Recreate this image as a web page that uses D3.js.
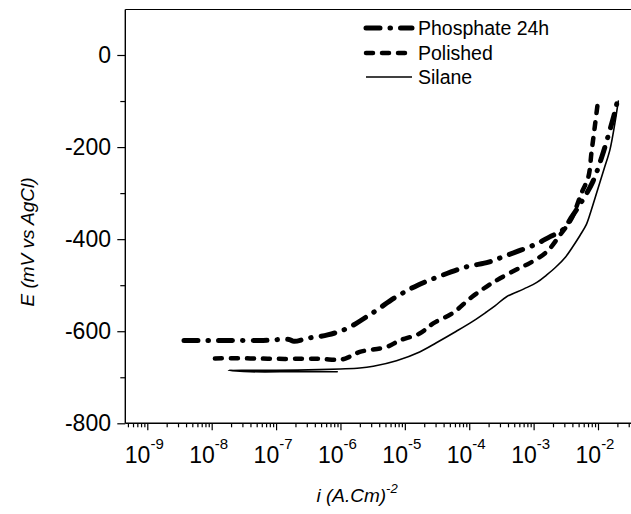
<!DOCTYPE html>
<html>
<head>
<meta charset="utf-8">
<script src="https://cdn.jsdelivr.net/npm/d3@7"></script>
<style>
  html, body { margin: 0; padding: 0; background: #fff; }
  svg { display: block; }
  text { font-family: Arial, "Liberation Sans", sans-serif; fill: #000; }
</style>
</head>
<body>
<svg id="chart" width="631" height="514"></svg>
<script>
// ---- Data (log10 of current density, potential in mV) ----
const xTickExponents = [-9, -8, -7, -6, -5, -4, -3, -2];
const yTickValues = [0, -200, -400, -600, -800];
const yMinorTickValues = [-100, -300, -500, -700];

const seriesNames = ["Phosphate 24h", "Polished", "Silane"];

const phosphateLogI = [-8.43, -7.8, -7.2, -6.8, -6.72, -6.5, -6.2, -5.9, -5.5, -5.13, -4.8, -4.45, -4.04, -3.7, -3.47, -3.2, -2.95, -2.75, -2.55, -2.4, -2.26, -2.08, -1.94, -1.82, -1.74, -1.70];
const phosphateE    = [-620, -620, -620, -618, -622, -615, -608, -594, -560, -525, -500, -480, -460, -450, -438, -424, -410, -395, -380, -350, -320, -275, -221, -165, -125, -100];

const polishedLogI = [-7.95, -7.4, -7.0, -6.6, -6.3, -6.0, -5.85, -5.7, -5.28, -5.08, -4.77, -4.56, -4.25, -3.99, -3.73, -3.52, -3.21, -3.06, -2.80, -2.59, -2.41, -2.26, -2.15, -2.10, -2.05, -2.0];
const polishedE    = [-659, -659, -660, -660, -660, -662, -655, -645, -634, -620, -605, -583, -560, -529, -503, -485, -462, -452, -428, -391, -355, -301, -265, -210, -156, -100];

const silaneLogI = [-6.05, -6.7, -7.4, -7.74, -7.3, -7.0, -6.5, -6.0, -5.7, -5.49, -5.13, -4.77, -4.51, -4.2, -3.94, -3.73, -3.6, -3.42, -3.15, -2.95, -2.8, -2.65, -2.5, -2.4, -2.28, -2.18, -2.1, -2.0, -1.90, -1.815, -1.74, -1.685];
const silaneE    = [-688, -688, -688, -685, -685, -685, -684, -682, -680, -676, -664, -645, -625, -600, -578, -558, -545, -525, -508, -494, -478, -460, -438, -418, -392, -368, -335, -290, -245, -206, -150, -100];

// ---- Layout ----
const svg = d3.select("#chart");
const plotLeft = 125.3, plotBottom = 423.3, plotTop = 9.5;

const x = d3.scaleLog().domain([1e-9, 1e-2]).range([147.3, 598]);
const y = d3.scaleLinear().domain([-800, 0]).range([423.3, 55]);

svg.append("rect").attr("width", 631).attr("height", 514).attr("fill", "#fff");

// frame lines
svg.append("line").attr("x1", plotLeft).attr("x2", 700).attr("y1", plotTop).attr("y2", plotTop)
  .attr("stroke", "#000").attr("stroke-width", 1);
svg.append("line").attr("x1", plotLeft).attr("x2", plotLeft).attr("y1", plotTop).attr("y2", plotBottom)
  .attr("stroke", "#000").attr("stroke-width", 1.4);
svg.append("line").attr("x1", plotLeft).attr("x2", 700).attr("y1", plotBottom).attr("y2", plotBottom)
  .attr("stroke", "#000").attr("stroke-width", 1.4);

// x major ticks
const xMajor = xTickExponents.map(e => Math.pow(10, e));
const xMinor = [];
for (let e = -10; e <= -1; e++) for (let m = 2; m <= 9; m++) {
  const v = m * Math.pow(10, e);
  if (x(v) > plotLeft + 1 && x(v) < 640) xMinor.push(v);
}
const xAxisMajor = d3.axisBottom(x).tickValues(xMajor).tickSize(7).tickFormat("");
const xAxisMinor = d3.axisBottom(x).tickValues(xMinor).tickSize(4).tickFormat("");
const gxM = svg.append("g").attr("transform", `translate(0,${plotBottom})`).call(xAxisMajor);
const gxm = svg.append("g").attr("transform", `translate(0,${plotBottom})`).call(xAxisMinor);
[gxM, gxm].forEach(g => { g.select(".domain").remove(); g.selectAll("line").attr("stroke", "#000").attr("stroke-width", 1.2); });

// x tick labels 10^n
xTickExponents.forEach(e => {
  const t = svg.append("text").attr("x", x(Math.pow(10, e)) - 3).attr("y", 463)
    .attr("text-anchor", "middle").attr("font-size", 23);
  t.append("tspan").text("10");
  t.append("tspan").attr("dy", -14).attr("font-size", 15).text("-" + Math.abs(e));
});

// y ticks
const yAxisMajor = d3.axisLeft(y).tickValues(yTickValues).tickSize(8).tickFormat("");
const yAxisMinor = d3.axisLeft(y).tickValues(yMinorTickValues).tickSize(5).tickFormat("");
const gyM = svg.append("g").attr("transform", `translate(${plotLeft},0)`).call(yAxisMajor);
const gym = svg.append("g").attr("transform", `translate(${plotLeft},0)`).call(yAxisMinor);
[gyM, gym].forEach(g => { g.select(".domain").remove(); g.selectAll("line").attr("stroke", "#000").attr("stroke-width", 1.2); });

yTickValues.forEach(v => {
  svg.append("text").attr("x", 111).attr("y", y(v) + 8)
    .attr("text-anchor", "end").attr("font-size", 23).text(v);
});

// axis titles
svg.append("text")
  .attr("transform", "translate(34,242) rotate(-90)")
  .attr("text-anchor", "middle").attr("font-size", 19).attr("font-style", "italic")
  .text("E (mV vs AgCl)");

const xt = svg.append("text").attr("x", 357).attr("y", 502)
  .attr("text-anchor", "middle").attr("font-size", 19).attr("font-style", "italic");
xt.append("tspan").text("i (A.Cm)");
xt.append("tspan").attr("dy", -9).attr("font-size", 13).text("-2");

// ---- Series ----
const styles = [
  { w: 5, dash: "14 10 0.5 10" },
  { w: 4.5, dash: "7 9" },
  { w: 1.6, dash: null }
];
const data = [
  phosphateLogI.map((l, i) => [l, phosphateE[i]]),
  polishedLogI.map((l, i) => [l, polishedE[i]]),
  silaneLogI.map((l, i) => [l, silaneE[i]])
];

const line = d3.line()
  .x(d => x(Math.pow(10, d[0])))
  .y(d => y(d[1]))
  .curve(d3.curveCatmullRom.alpha(0.5));

data.forEach((d, i) => {
  svg.append("path").attr("d", line(d))
    .attr("fill", "none").attr("stroke", "#000")
    .attr("stroke-width", styles[i].w)
    .attr("stroke-linecap", "round").attr("stroke-linejoin", "round")
    .attr("stroke-dasharray", styles[i].dash);
});

// ---- Legend ----
const legendY = [28, 53, 77];
seriesNames.forEach((name, i) => {
  svg.append("line").attr("x1", 366).attr("x2", 412)
    .attr("y1", legendY[i]).attr("y2", legendY[i])
    .attr("stroke", "#000").attr("stroke-width", styles[i].w)
    .attr("stroke-linecap", i === 2 ? "butt" : "round")
    .attr("stroke-dasharray", styles[i].dash);
  svg.append("text").attr("x", 418).attr("y", legendY[i] + 7)
    .attr("font-size", 19.5).text(name);
});
</script>
</body>
</html>
